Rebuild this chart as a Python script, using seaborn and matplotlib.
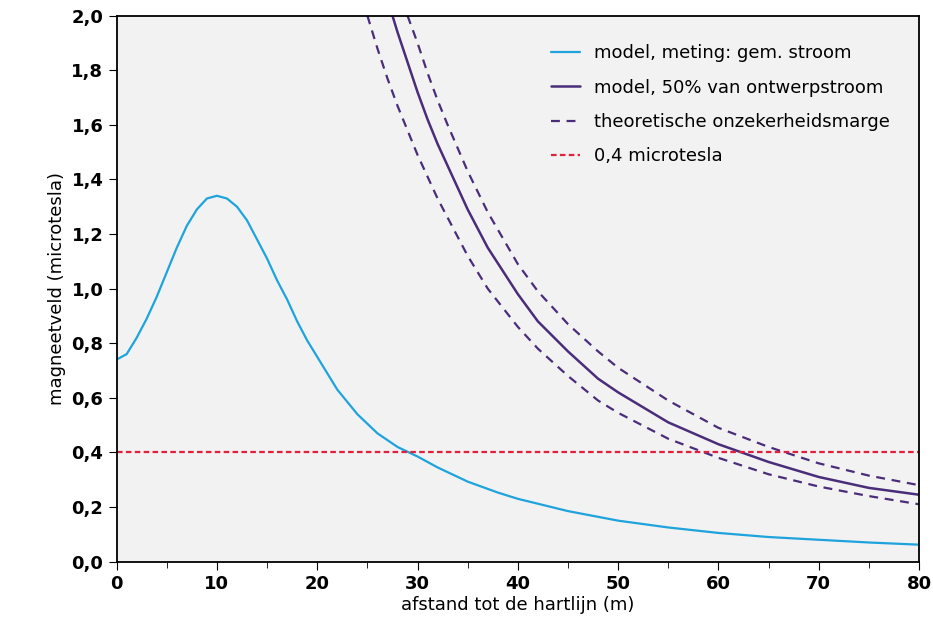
import numpy as np
import pandas as pd
import seaborn as sb
import matplotlib
matplotlib.use("Agg")
import matplotlib.pyplot as plt
from matplotlib.ticker import FuncFormatter, MultipleLocator

# values
x_meting = [0, 1, 2, 3, 4, 5, 6, 7, 8, 9, 10, 11, 12, 13, 14, 15, 16, 17, 18, 19, 20,
            22, 24, 26, 28, 30, 32, 35, 38, 40, 45, 50, 55, 60, 65, 70, 75, 80]
y_meting = [0.74, 0.76, 0.82, 0.89, 0.97, 1.06, 1.15, 1.23, 1.29, 1.33, 1.34, 1.33, 1.30, 1.25, 1.18, 1.11, 1.03, 0.96, 0.88, 0.81, 0.75,
            0.63, 0.54, 0.47, 0.42, 0.385, 0.345, 0.293, 0.253, 0.23, 0.185, 0.15, 0.125, 0.105, 0.09, 0.08, 0.07, 0.062]

x_model = [27.5, 28, 29, 30, 31, 32, 33, 35, 37, 40, 42, 45, 48, 50, 55, 60, 65, 70, 75, 80]
y_model = [2.0, 1.94, 1.83, 1.72, 1.62, 1.53, 1.45, 1.29, 1.15, 0.98, 0.88, 0.77, 0.67, 0.62, 0.51, 0.43, 0.365, 0.31, 0.27, 0.245]

x_boven = [29, 30, 31, 32, 33, 35, 37, 40, 42, 45, 48, 50, 55, 60, 65, 70, 75, 80]
y_boven = [2.0, 1.9, 1.79, 1.69, 1.60, 1.43, 1.28, 1.09, 0.99, 0.87, 0.77, 0.71, 0.59, 0.49, 0.42, 0.36, 0.315, 0.28]

x_onder = [25, 26, 27, 28, 30, 32, 33, 35, 37, 40, 42, 45, 48, 50, 55, 60, 65, 70, 75, 80]
y_onder = [2.0, 1.88, 1.77, 1.67, 1.49, 1.33, 1.26, 1.12, 1.0, 0.86, 0.78, 0.68, 0.59, 0.545, 0.45, 0.38, 0.32, 0.275, 0.24, 0.21]

x_grens = [0, 80]
y_grens = [0.4, 0.4]

sb.set_style("ticks")
plt.rcParams['font.family'] = ['DejaVu Sans']
plt.rcParams['text.color'] = 'black'
plt.rcParams['axes.labelcolor'] = 'black'
plt.rcParams['xtick.color'] = 'black'
plt.rcParams['ytick.color'] = 'black'

fig, ax = plt.subplots(figsize=(9.33, 6.24), dpi=100)
ax.set_facecolor("#f2f2f2")

sb.lineplot(x=x_meting, y=y_meting, ax=ax, color="#1ea3dc", lw=1.6, label="model, meting: gem. stroom")
sb.lineplot(x=x_model, y=y_model, ax=ax, color="#4a2d7a", lw=1.8, label="model, 50% van ontwerpstroom")
sb.lineplot(x=x_boven, y=y_boven, ax=ax, color="#4a2d7a", lw=1.6, ls=(0, (4, 3)), label="theoretische onzekerheidsmarge")
sb.lineplot(x=x_onder, y=y_onder, ax=ax, color="#4a2d7a", lw=1.6, ls=(0, (4, 3)))
sb.lineplot(x=x_grens, y=y_grens, ax=ax, color="#e0203c", lw=1.6, ls=(0, (2.5, 1.5)), label="0,4 microtesla")

ax.set_xlim(0, 80)
ax.set_ylim(0, 2.0)
ax.xaxis.set_major_locator(MultipleLocator(10))
ax.xaxis.set_minor_locator(MultipleLocator(5))
ax.yaxis.set_major_locator(MultipleLocator(0.2))
ax.yaxis.set_major_formatter(FuncFormatter(lambda v, p: f"{v:.1f}".replace(".", ",")))
ax.tick_params(axis="both", which="major", labelsize=13, length=6, direction="out")
ax.tick_params(axis="x", which="minor", length=4)
for t in ax.get_xticklabels() + ax.get_yticklabels():
    t.set_fontweight("semibold")
ax.set_xlabel("afstand tot de hartlijn (m)", fontsize=13, labelpad=2)
ax.set_ylabel("magneetveld (microtesla)", fontsize=13)
for s in ax.spines.values():
    s.set_linewidth(1.3)
    s.set_color("black")

leg = ax.legend(loc="upper right", frameon=False, fontsize=13, handlelength=1.6,
                labelspacing=0.9, borderaxespad=1.2)

plt.subplots_adjust(left=0.125, right=0.985, top=0.975, bottom=0.1)
fig.savefig("out.png", dpi=100)
